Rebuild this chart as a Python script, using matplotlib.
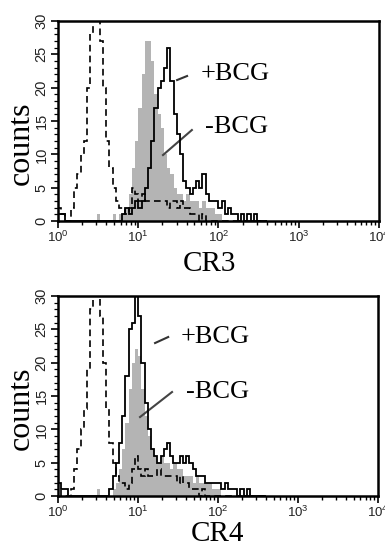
import numpy as np
import matplotlib
matplotlib.use("Agg")
import matplotlib.pyplot as plt
from matplotlib.ticker import FixedLocator, FuncFormatter, MultipleLocator

# bin width in log10 units, bins start at 10^0
bin_step = 0.04

# CR3 panel
cr3_ctrl = [2, 1, 0, 0, 2, 5, 7, 10, 12, 20, 28, 35, 33, 27, 20, 12, 8, 5, 3, 2,
            2, 1, 2, 5, 4, 3, 4, 3, 3, 3, 3, 3, 3, 3, 2, 3, 3, 2, 3, 2,
            2, 1, 1, 1, 0, 1, 0, 0, 0, 0, 0, 0, 0, 0, 0, 0, 0, 0, 0, 0,
            0, 0, 0, 0, 0]
cr3_minus = [0, 0, 0, 0, 0, 0, 0, 0, 0, 0, 0, 0, 1, 0, 0, 0, 0, 1, 0, 1,
             1, 2, 4, 8, 12, 17, 22, 27, 27, 24, 19, 16, 14, 10, 8, 7, 5, 4, 4, 3,
             4, 3, 3, 3, 2, 3, 2, 2, 2, 1, 1, 0, 0, 0, 0, 0, 0, 0, 0, 0,
             0, 0, 0, 0, 0]
cr3_plus = [1, 1, 0, 0, 0, 0, 0, 0, 0, 0, 0, 0, 0, 0, 0, 0, 0, 0, 0, 0,
            1, 2, 1, 2, 3, 2, 3, 5, 8, 12, 17, 20, 21, 23, 26, 21, 16, 13, 10, 6,
            5, 4, 5, 6, 5, 7, 4, 3, 3, 3, 2, 3, 1, 2, 1, 1, 0, 1, 0, 1,
            0, 1, 0, 0, 0]

# CR4 panel
cr4_ctrl = [1, 0, 0, 0, 1, 4, 7, 10, 13, 19, 28, 35, 33, 27, 20, 13, 8, 5, 3, 2,
            2, 1, 2, 4, 6, 4, 3, 4, 3, 3, 3, 4, 3, 3, 3, 3, 3, 2, 3, 2,
            2, 1, 1, 1, 0, 1, 0, 0, 0, 0, 0, 0, 0, 0, 0, 0, 0, 0, 0, 0,
            0, 0, 0, 0, 0]
cr4_minus = [0, 0, 0, 0, 0, 0, 0, 0, 0, 0, 0, 0, 1, 0, 0, 0, 0, 1, 2, 4,
             7, 11, 16, 20, 22, 21, 16, 12, 9, 7, 6, 5, 6, 5, 5, 4, 5, 4, 4, 3,
             3, 3, 2, 3, 2, 2, 2, 2, 1, 1, 1, 0, 0, 0, 0, 0, 0, 0, 0, 0,
             0, 0, 0, 0, 0]
cr4_plus = [2, 1, 1, 0, 0, 0, 0, 0, 0, 0, 0, 0, 0, 0, 0, 0, 1, 3, 5, 8,
            12, 18, 25, 26, 30, 27, 20, 14, 10, 7, 6, 5, 6, 7, 8, 6, 5, 5, 6, 5,
            6, 5, 4, 3, 3, 3, 2, 2, 2, 2, 2, 1, 2, 1, 1, 1, 0, 1, 0, 1,
            0, 0, 0, 0, 0]

x_labels = ["CR3", "CR4"]
y_label = "counts"
plus_text = "+BCG"
minus_text = "-BCG"

serif = "Liberation Serif"
sans = "Liberation Sans"

fig = plt.figure(figsize=(3.85, 5.49), dpi=100)
ax_positions = [[0.151, 0.5974, 0.833, 0.3643], [0.151, 0.0965, 0.831, 0.3643]]
panels = [(cr3_ctrl, cr3_minus, cr3_plus), (cr4_ctrl, cr4_minus, cr4_plus)]
annots = [
    dict(plus=(0.551, 0.735), plus_line=((0.371, 0.705), (0.402, 0.725)),
         minus=(0.555, 0.47), minus_line=((0.327, 0.33), (0.417, 0.455)),
         ylab=0.39, xlab=(0.543, 0.4955)),
    dict(plus=(0.49, 0.795), plus_line=((0.303, 0.765), (0.344, 0.795)),
         minus=(0.497, 0.52), minus_line=((0.256, 0.395), (0.356, 0.52)),
         ylab=0.44, xlab=(0.565, 0.003)),
]

def fmt(v, pos):
    e = int(round(np.log10(v)))
    return r"$\mathregular{10^{%d}}$" % e

for k, pos in enumerate(ax_positions):
    ax = fig.add_axes(pos)
    ctrl, minus, plus = panels[k]
    n = len(ctrl)
    edges = 10 ** (np.arange(n + 1) * bin_step)
    ax.stairs(minus, edges, fill=True, color="#b4b4b4", linewidth=0, zorder=1)
    ax.stairs(ctrl, edges, color="black", linewidth=1.2, linestyle=(0, (4, 2.5)), zorder=2)
    ax.stairs(plus, edges, color="black", linewidth=1.3, zorder=3)
    ax.set_xscale("log")
    ax.set_xlim(1, 1e4)
    ax.set_ylim(0, 30)
    for s in ax.spines.values():
        s.set_linewidth(1.8)
    ax.xaxis.set_major_locator(FixedLocator([1, 10, 100, 1000, 10000]))
    ax.xaxis.set_major_formatter(FuncFormatter(fmt))
    ax.xaxis.set_minor_locator(FixedLocator([m * 10 ** d for d in range(4) for m in range(2, 10)]))
    ax.yaxis.set_major_locator(MultipleLocator(5))
    ax.yaxis.set_minor_locator(MultipleLocator(1))
    ax.tick_params(axis="x", which="major", length=5, width=1.2, pad=1.5)
    ax.tick_params(axis="x", which="minor", length=3, width=1.0)
    ax.tick_params(axis="y", which="major", length=5, width=1.2, pad=2)
    ax.tick_params(axis="y", which="minor", length=3, width=0.9)
    for lab in ax.get_xticklabels():
        lab.set_fontfamily(sans)
        lab.set_fontsize(9.5)
        lab.set_color("#222222")
    for lab in ax.get_yticklabels():
        lab.set_fontfamily(sans)
        lab.set_fontsize(10.5)
        lab.set_rotation(90)
        lab.set_va("center")
        lab.set_color("#222222")
    a = annots[k]
    fig.text(a["xlab"][0], a["xlab"][1], x_labels[k], ha="center", va="bottom",
             fontfamily=serif, fontsize=21)
    ax.text(-0.115, a["ylab"], y_label, transform=ax.transAxes, rotation=90,
            ha="center", va="center", fontfamily=serif, fontsize=23)
    ax.text(*a["plus"], plus_text, transform=ax.transAxes, ha="center", va="center",
            fontfamily=serif, fontsize=19)
    ax.text(*a["minus"], minus_text, transform=ax.transAxes, ha="center", va="center",
            fontfamily=serif, fontsize=19)
    (x0, y0), (x1, y1) = a["plus_line"]
    ax.plot([x0, x1], [y0, y1], transform=ax.transAxes, color="#333333", lw=1.5)
    (x0, y0), (x1, y1) = a["minus_line"]
    ax.plot([x0, x1], [y0, y1], transform=ax.transAxes, color="#444444", lw=1.5)

fig.savefig("out.png", dpi=100)
